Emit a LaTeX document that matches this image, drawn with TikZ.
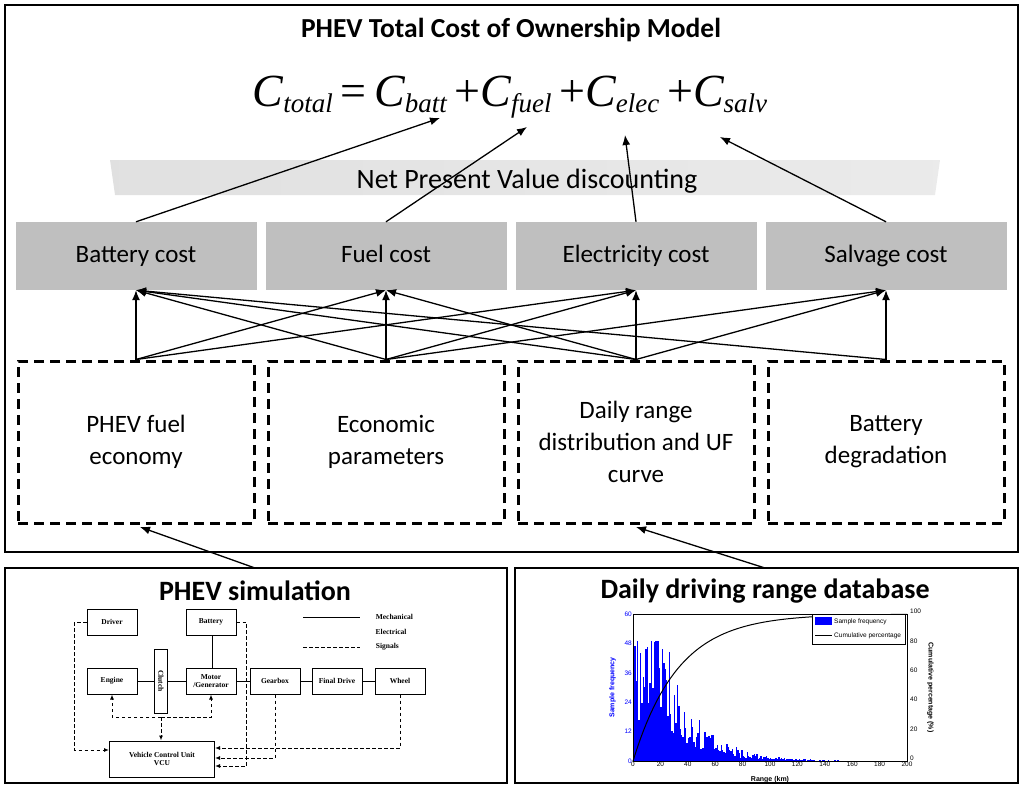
\documentclass[tikz,border=0pt]{standalone}
\usepackage{fontspec}
\setmainfont{Carlito}
\newfontfamily\simfont{Liberation Serif}
\newfontfamily\plotfont{Liberation Sans}
\usetikzlibrary{arrows.meta,positioning}

\newcommand{\cterm}[1]{{\itshape C}\raisebox{-0.3ex}{\fontsize{27}{30}\selectfont\itshape #1}}

\tikzset{
  frame/.style={draw,line width=2.8pt},
  cost/.style={fill=black!25,minimum width=241pt,minimum height=68pt,text height=18pt,text depth=5pt,font=\fontsize{25}{29}\selectfont},
  input/.style={draw,line width=3pt,dash pattern=on 10pt off 6pt,minimum width=236pt,minimum height=162pt,
    align=center,font=\fontsize{25}{32}\selectfont},
  feed/.style={-{Latex[length=10pt,width=8pt]},line width=1.3pt},
  blk/.style={draw,line width=1pt,minimum width=50pt,minimum height=26pt,font=\simfont\bfseries\fontsize{7.5}{8}\selectfont,align=center},
  sig/.style={dash pattern=on 3.5pt off 2.5pt,line width=1pt},
  sigarr/.style={sig,-{Latex[length=5pt,width=4pt]}},
  tick/.style={inner sep=1pt,font=\plotfont\fontsize{6.5}{7}\selectfont}
}

\begin{document}
\begin{tikzpicture}[x=1pt,y=-1pt]
    \useasboundingbox (0,0) rectangle (1024,789);

    % Frames
    \draw[frame] (5,5) rectangle (1018,552);
    \draw[frame] (5,568) rectangle (507,783);
    \draw[frame] (515,568) rectangle (1018,783);

    \node[font=\bfseries\fontsize{27.5}{30}\selectfont] (title) at (511,30) {PHEV Total Cost of Ownership Model};
    \node[font=\simfont\fontsize{46}{50}\selectfont] (eq) at (510,97)
      {\cterm{total}\,=\,\cterm{batt}\,+\cterm{fuel}\,+\cterm{elec}\,+\cterm{salv}};

    % Discounting band
    \shade[left color=black!12,right color=black!8] (110,160) -- (940,160) -- (935,195) -- (115,195) -- cycle;
    \node[font=\fontsize{28}{32}\selectfont] (npv) at (527,181) {Net Present Value discounting};

    % Cost boxes
    \node[cost] (batt) at (136,256) {Battery cost};
    \node[cost] (fuel) at (386,256) {Fuel cost};
    \node[cost] (elec) at (636,256) {Electricity cost};
    \node[cost] (salv) at (886,256) {Salvage cost};

    % Input boxes
    \node[input] (fe) at (136,442) {PHEV fuel\\economy};
    \node[input] (ep) at (386,442) {Economic\\parameters};
    \node[input] (dr) at (636,442) {Daily range\\distribution and UF\\curve};
    \node[input] (bd) at (886,442) {Battery\\degradation};

    \draw[feed] (batt.north) -- (440,118);
    \draw[feed] (fuel.north) -- (527,127);
    \draw[feed] (elec.north) -- (625,135);
    \draw[feed] (salv.north) -- (720,137);

    \foreach \s/\t in {fe/batt,fe/fuel,fe/elec,ep/batt,ep/fuel,ep/elec,ep/salv,
                       dr/batt,dr/fuel,dr/elec,dr/salv,bd/batt,bd/salv}
      \draw[feed] (\s.north) -- (\t.south);

    \coordinate (simtop) at (255,568);
    \coordinate (dbtop) at (765,568);
    \draw[feed] (simtop) -- (140,527);
    \draw[feed] (dbtop) -- (636,527);

    % PHEV simulation
    \node[font=\bfseries\fontsize{28}{32}\selectfont] (simtitle) at (255,591) {PHEV simulation};
    \node[blk] (driver) at (112,622) {Driver};
    \node[blk] (bat) at (211,622) {Battery};
    \node[blk] (eng) at (112,681) {Engine};
    \node[blk,minimum width=13pt,minimum height=64pt] (clu) at (161,681) {\rotatebox{-90}{Clutch}};
    \node[blk] (mot) at (211,681) {Motor\\/Generator};
    \node[blk] (gear) at (275,681) {Gearbox};
    \node[blk] (fd) at (337,681) {Final Drive};
    \node[blk] (wh) at (400,681) {Wheel};
    \node[blk,minimum width=105pt,minimum height=36pt] (vcu) at (162,759) {Vehicle Control Unit\\VCU};
    \draw[line width=1pt] (eng) -- (clu) -- (mot) -- (gear) -- (fd) -- (wh);
    \draw[double,line width=0.8pt,double distance=1.4pt] (bat) -- (mot);
    \draw[sigarr] (driver.west) -- ++(-12,0) |- ([yshift=9pt]vcu.west);
    \draw[sigarr] (bat.east) -- ++(10,0) |- ([yshift=-7pt]vcu.east);
    \draw[sigarr] (gear.south) |- ([yshift=1pt]vcu.east);
    \draw[sigarr] (wh.south) |- ([yshift=11pt]vcu.east);
    \coordinate (sigmid) at (161,717);
    \draw[sigarr] (sigmid) -| (eng.south);
    \draw[sigarr] (sigmid) -| (mot.south);
    \draw[sigarr] (sigmid) -- (vcu.north -| sigmid);
    % legend
    \draw[line width=1pt] (303,617) -- (360,617) node[right=12pt,font=\simfont\bfseries\fontsize{7.5}{8}\selectfont]{Mechanical};
    \draw[double,line width=0.8pt,double distance=1.2pt] (303,632) -- (360,632) node[right=12pt,font=\simfont\bfseries\fontsize{7.5}{8}\selectfont]{Electrical};
    \draw[sig] (303,647) -- (360,647) node[right=12pt,font=\simfont\bfseries\fontsize{7.5}{8}\selectfont]{Signals};

    % Daily driving range database
    \node[font=\bfseries\fontsize{28}{32}\selectfont] (dbtitle) at (765,591) {Daily driving range database};
    \begin{scope}[shift={(633,761)},x=1.37pt,y=2.45pt]
      \pgfmathsetseed{11}
      \foreach \k in {0,...,198}{
        \pgfmathsetmacro\h{min(49,42*exp(-max(0,\k-18)/24)*(0.35+1.2*rnd)*min(1,(\k+2)/4))}
        \fill[blue] (\k,0) rectangle (\k+1,\h);
      }
      \draw[line width=1pt,domain=0:200,samples=80] plot (\x,{60*(1-exp(-\x/33))});
      \draw[line width=0.5pt] (0,0) rectangle (200,60);
      \foreach \v in {0,20,...,200}
        \node[below,tick] at (\v,0) {\v};
      \foreach \v in {0,12,...,60}
        \node[left,tick,text=blue] at (0,\v) {\v};
      \foreach \v in {0,20,...,100}
        \node[right,tick,xshift=2pt] at (200,{\v*0.6+1}) {\v};
      \node[font=\plotfont\bfseries\fontsize{7}{8}\selectfont] (xlab) at (100,-7.5) {Range (km)};
      \node[rotate=90,text=blue,font=\plotfont\bfseries\fontsize{7}{8}\selectfont] (ylab) at (-15,30) {Sample frequency};
      \node[rotate=-90,font=\plotfont\bfseries\fontsize{7}{8}\selectfont] (y2lab) at (217,30) {Cumulative percentage (\%)};
      \draw[fill=white,line width=0.5pt] (131,60) rectangle (199,47.5);
      \fill[blue] (133,58.7) rectangle (145,55.5);
      \draw[line width=1pt] (133,51.2) -- (145,51.2);
      \node[right,tick] at (146,57) {Sample frequency};
      \node[right,tick] at (146,51.2) {Cumulative percentage};
    \end{scope}
\end{tikzpicture}
\end{document}
